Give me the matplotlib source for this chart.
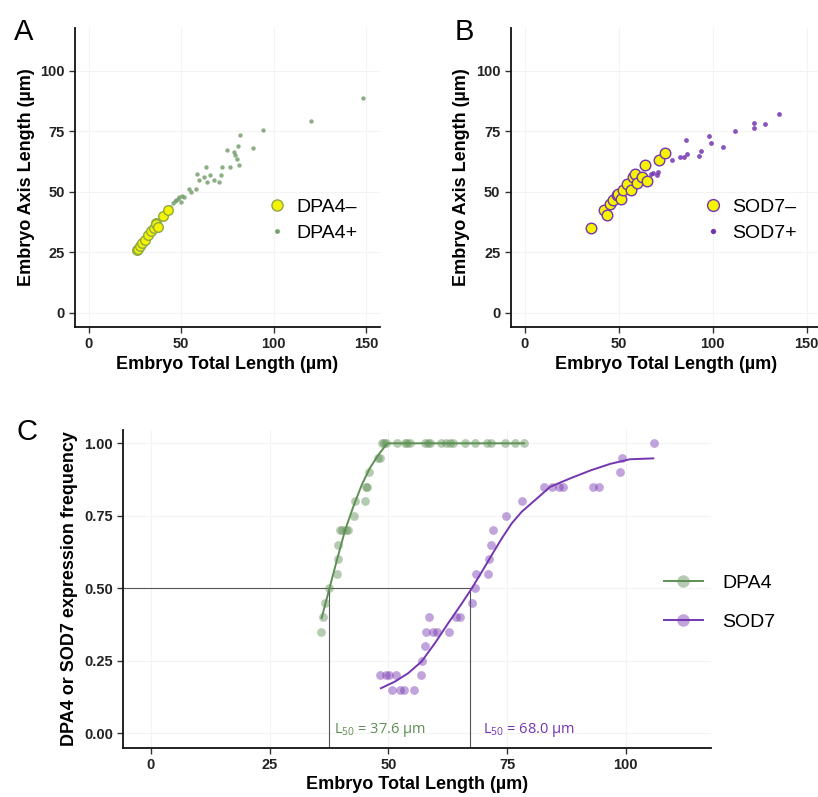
import matplotlib
matplotlib.use("Agg")
import matplotlib.pyplot as plt
from matplotlib.lines import Line2D

plt.rcParams['font.family'] = ['Liberation Sans', 'DejaVu Sans']
plt.rcParams['mathtext.default'] = 'regular'

# ---- Panel A: DPA4 ----
dpa4_neg_x = [25.8, 26.5, 27.6, 29.0, 30.6, 32.0, 33.8, 35.5, 36.1, 36.5, 37.4, 40.0, 42.7]
dpa4_neg_y = [26.1, 26.5, 27.4, 28.8, 30.2, 32.0, 33.8, 35.0, 37.1, 36.5, 35.4, 39.9, 42.6]
dpa4_pos_x = [44.0, 45.4, 46.5, 47.2, 48.0, 48.9, 49.8, 50.5, 51.6, 54.3, 55.2, 57.8, 58.7,
              59.6, 62.3, 63.2, 64.0, 65.8, 67.6, 70.3, 71.7, 72.0, 74.7, 76.5, 78.3,
              79.2, 80.0, 80.6, 81.0, 81.9, 89.0, 94.3, 120.1, 148.2]
dpa4_pos_y = [43.5, 45.4, 46.0, 46.5, 47.0, 47.8, 45.8, 48.2, 47.8, 51.3, 49.9, 51.3, 57.5,
              54.8, 56.1, 60.3, 54.1, 56.8, 54.8, 54.1, 56.8, 60.3, 67.2, 60.3, 66.5,
              65.1, 63.7, 69.0, 61.0, 73.4, 67.9, 75.7, 79.3, 88.7]

# ---- Panel B: SOD7 ----
sod7_neg_x = [35.1, 42.2, 43.5, 45.3, 46.7, 48.8, 49.7, 51.0, 52.4, 54.1, 56.4, 57.3,
              58.6, 59.5, 62.5, 64.1, 64.8, 71.5, 74.5]
sod7_neg_y = [35.0, 42.6, 40.6, 44.8, 46.5, 48.5, 49.2, 47.2, 50.9, 53.4, 50.9, 56.1,
              57.2, 53.7, 56.1, 61.0, 54.4, 63.0, 66.2]
sod7_pos_x = [66.9, 68.0, 70.5, 70.8, 78.1, 82.5, 84.7, 85.6, 86.4, 92.8, 93.7, 98.1,
              99.0, 105.6, 111.8, 121.9, 122.1, 127.8, 135.2]
sod7_pos_y = [57.5, 57.8, 56.8, 58.2, 63.3, 64.2, 64.2, 71.3, 65.8, 64.7, 66.9, 73.0,
              70.0, 68.3, 75.2, 76.2, 78.6, 78.2, 82.0]

# ---- Panel C: expression frequency ----
dpa4_len = [35.9, 36.2, 36.6, 37.5, 39.3, 39.5, 39.5, 39.8, 40.2, 41.2, 41.5, 42.8, 43.0,
            45.1, 45.3, 45.6, 46.0, 47.9, 48.2,
            48.6, 49.1, 49.6, 51.9, 53.5, 54.0, 54.6, 57.7, 58.3, 58.8, 61.2, 62.2,
            63.0, 63.7, 66.1, 68.3, 70.8, 71.7, 74.6, 76.7, 78.6]
dpa4_freq = [0.35, 0.40, 0.45, 0.50, 0.55, 0.60, 0.65, 0.70, 0.70, 0.70, 0.70, 0.75, 0.80,
             0.80, 0.85, 0.85, 0.90, 0.95, 0.95,
             1.00, 1.00, 1.00, 1.00, 1.00, 1.00, 1.00, 1.00, 1.00, 1.00, 1.00, 1.00,
             1.00, 1.00, 1.00, 1.00, 1.00, 1.00, 1.00, 1.00, 1.00]
dpa4_fit_x = [35.96, 37.57, 39.1, 40.9, 42.6, 44.4, 46.1, 47.9, 49.8, 78.6]
dpa4_fit_y = [0.397, 0.497, 0.592, 0.70, 0.78, 0.856, 0.914, 0.96, 1.0, 1.0]

sod7_len = [48.3, 49.6, 50.2, 51.6, 50.7, 52.5, 53.3, 55.5, 56.8, 57.2, 57.7, 58.0, 59.5,
            60.2, 62.8, 58.6, 64.3, 65.0, 67.6, 68.3, 68.5, 71.1, 71.3, 71.6, 72.0, 74.8,
            78.2, 82.7, 84.5, 85.9, 86.8, 93.1, 94.3, 98.7, 99.3, 106.0]
sod7_freq = [0.20, 0.20, 0.20, 0.20, 0.15, 0.15, 0.15, 0.15, 0.20, 0.25, 0.30, 0.35, 0.35,
             0.35, 0.35, 0.40, 0.40, 0.40, 0.45, 0.50, 0.55, 0.55, 0.60, 0.65, 0.70, 0.75,
             0.80, 0.85, 0.85, 0.85, 0.85, 0.85, 0.85, 0.90, 0.95, 1.00]
sod7_fit_x = [48.45, 51.4, 54.2, 57.0, 59.8, 62.6, 65.5, 67.6, 69.7, 71.8, 73.9, 76.0,
              78.1, 80.9, 84.1, 88.3, 92.5, 96.7, 100.9, 105.8]
sod7_fit_y = [0.155, 0.178, 0.207, 0.247, 0.31, 0.379, 0.448, 0.50, 0.557, 0.615, 0.672,
              0.724, 0.764, 0.804, 0.85, 0.879, 0.906, 0.929, 0.945, 0.948]

l50_pos = [37.6, 67.3]
l50_text = ["L$_{50}$ = 37.6 µm", "L$_{50}$ = 68.0 µm"]
l50_text_x = [38.6, 70.0]

green = '#5e8f54'
green_light = '#79a06f'
purple = '#7436b0'
yellow = '#f4f400'

fig = plt.figure(figsize=(8.18, 7.97), dpi=100)


def style_axes(ax, xticks, yticks, xlim, ylim, yfmt=None):
    ax.set_xlim(xlim)
    ax.set_ylim(ylim)
    ax.set_xticks(xticks)
    ax.set_yticks(yticks)
    if yfmt:
        ax.set_yticklabels([yfmt % v for v in yticks])
    for s in ['top', 'right']:
        ax.spines[s].set_visible(False)
    for s in ['left', 'bottom']:
        ax.spines[s].set_linewidth(1.3)
        ax.spines[s].set_color('#111111')
    ax.tick_params(length=4, width=1, color='#333333', labelsize=10.5, labelcolor='#222222')
    for lab in ax.get_xticklabels() + ax.get_yticklabels():
        lab.set_fontweight('bold')
    ax.grid(True, color='#f3f3f3', linewidth=0.8)
    ax.set_axisbelow(True)


# Panel A
axA = fig.add_axes([0.0917, 0.5897, 0.3728, 0.3752])
axA.scatter(dpa4_pos_x, dpa4_pos_y, s=10, color=green_light, alpha=0.85, linewidths=0, zorder=3)
axA.scatter(dpa4_neg_x, dpa4_neg_y, s=48, facecolor=yellow, edgecolor='#8fa845', linewidths=1.0, zorder=4)
style_axes(axA, [0, 50, 100, 150], [0, 25, 50, 75, 100], (-7.5, 157.5), (-5.9, 117.7))
axA.set_xlabel("Embryo Total Length (µm)", fontsize=13, fontweight='bold', labelpad=3)
axA.set_ylabel("Embryo Axis Length (µm)", fontsize=13, fontweight='bold', labelpad=4)
hA = [Line2D([], [], ls='none', marker='o', ms=8, mfc=yellow, mec='#8fa845', mew=1.0),
      Line2D([], [], ls='none', marker='o', ms=3.5, mfc=green_light, mec='none')]
axA.legend(hA, ["DPA4–", "DPA4+"], loc='center left', bbox_to_anchor=(0.303, 0.724),
           bbox_transform=fig.transFigure, frameon=False, fontsize=14,
           handletextpad=0.4, labelspacing=0.42, handlelength=1.2)

# Panel B
axB = fig.add_axes([0.6245, 0.5897, 0.379, 0.3752])
axB.scatter(sod7_pos_x, sod7_pos_y, s=12, color=purple, alpha=0.85, linewidths=0, zorder=3)
axB.scatter(sod7_neg_x, sod7_neg_y, s=58, facecolor=yellow, edgecolor=purple, linewidths=1.0, zorder=4)
style_axes(axB, [0, 50, 100, 150], [0, 25, 50, 75, 100], (-7.5, 157.5), (-5.9, 117.7))
axB.set_xlabel("Embryo Total Length (µm)", fontsize=13, fontweight='bold', labelpad=3)
axB.set_ylabel("Embryo Axis Length (µm)", fontsize=13, fontweight='bold', labelpad=4)
hB = [Line2D([], [], ls='none', marker='o', ms=8.5, mfc=yellow, mec=purple, mew=1.0),
      Line2D([], [], ls='none', marker='o', ms=3.8, mfc=purple, mec='none')]
axB.legend(hB, ["SOD7–", "SOD7+"], loc='center left', bbox_to_anchor=(0.836, 0.724),
           bbox_transform=fig.transFigure, frameon=False, fontsize=14,
           handletextpad=0.4, labelspacing=0.42, handlelength=1.2)

# Panel C
axC = fig.add_axes([0.1507, 0.0619, 0.7182, 0.3986])
axC.plot([-5.8, l50_pos[1]], [0.5, 0.5], color='#555555', lw=0.8, zorder=2)
for xv in l50_pos:
    axC.plot([xv, xv], [-0.05, 0.5], color='#555555', lw=0.8, zorder=2)
axC.scatter(dpa4_len, dpa4_freq, s=40, color=green, alpha=0.45, linewidths=0, zorder=3)
axC.scatter(sod7_len, sod7_freq, s=40, color=purple, alpha=0.45, linewidths=0, zorder=3)
axC.plot(dpa4_fit_x, dpa4_fit_y, color=green, lw=1.4, zorder=4)
axC.plot(sod7_fit_x, sod7_fit_y, color=purple, lw=1.4, zorder=4)
style_axes(axC, [0, 25, 50, 75, 100], [0, 0.25, 0.5, 0.75, 1.0], (-5.8, 117.9), (-0.05, 1.046),
           yfmt='%.2f')
for xv, txt, col in zip(l50_text_x, l50_text, [green, purple]):
    axC.text(xv, 0.01, txt, color=col, fontsize=10.5, family='Open Sans',
             ha='left', va='center')
axC.set_xlabel("Embryo Total Length (µm)", fontsize=13, fontweight='bold', labelpad=3)
axC.set_ylabel("DPA4 or SOD7 expression frequency", fontsize=13, fontweight='bold', labelpad=4)

hC = [(Line2D([], [], color=green, lw=1.4),
       Line2D([], [], ls='none', marker='o', ms=9, mfc=green, mec='none', alpha=0.45)),
      (Line2D([], [], color=purple, lw=1.4),
       Line2D([], [], ls='none', marker='o', ms=9, mfc=purple, mec='none', alpha=0.45))]
axC.legend(hC, ["DPA4", "SOD7"], loc='center left', bbox_to_anchor=(0.79, 0.244),
           bbox_transform=fig.transFigure, frameon=False, fontsize=14,
           handletextpad=1.0, labelspacing=1.1, handlelength=2.0)

# panel letters
fig.text(0.017, 0.96, "A", fontsize=21, ha='left', va='center')
fig.text(0.556, 0.96, "B", fontsize=21, ha='left', va='center')
fig.text(0.02, 0.458, "C", fontsize=21, ha='left', va='center')

plt.savefig('out.png', dpi=100)
